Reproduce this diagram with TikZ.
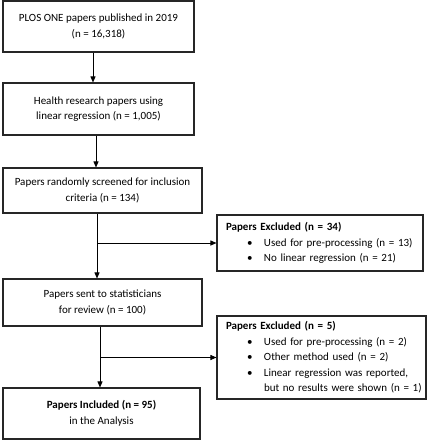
\documentclass[tikz,border=0pt]{standalone}
\usepackage{fontspec}
\setmainfont{Carlito}
\usetikzlibrary{arrows.meta,calc}
\newcommand{\bulletline}[1]{\hspace*{21pt}\makebox[17pt][l]{\textbullet}\mbox{#1}}
\begin{document}
\begin{tikzpicture}[x=1pt,y=1pt,
  every node/.style={font=\fontsize{11}{15.5}\selectfont},
  mainbox/.style={draw=black!85,line width=1.1pt,align=center,inner sep=0pt},
  exclbox/.style={draw=black!85,line width=1.1pt,align=left,inner xsep=9pt,inner ysep=0pt},
  flow/.style={line width=0.9pt,-{Triangle[length=6pt,width=5pt]}}
]
\useasboundingbox (0,0) rectangle (427,-440);
\node[mainbox,minimum width=191pt,minimum height=51pt] (b1) at (98.5,-26.5)
  {PLOS ONE papers published in 2019\\(n = 16,318)};
\node[mainbox,minimum width=191pt,minimum height=52pt] (b2) at (98.5,-109)
  {Health research papers using\\linear regression (n = 1,005)};
\node[mainbox,minimum width=199pt,minimum height=45pt] (b3) at (102.5,-190.5)
  {Papers randomly screened for inclusion\\criteria (n = 134)};
\node[mainbox,minimum width=199pt,minimum height=47pt] (b4) at (102.5,-302.5)
  {Papers sent to statisticians\\for review (n = 100)};
\node[mainbox,minimum width=197pt,minimum height=51pt] (b5) at (101.5,-413.5)
  {\textbf{Papers Included (n = 95)}\\in the Analysis};
\node[exclbox,text width=188pt,minimum height=56pt] (e1) at (320,-243)
  {\textbf{Papers Excluded (n = 34)}\\
   \bulletline{Used for pre-processing (n = 13)}\\
   \bulletline{No linear regression (n = 21)}};
\node[exclbox,text width=191pt,minimum height=83pt] (e2) at (321.5,-357.5)
  {\textbf{Papers Excluded (n = 5)}\\
   \bulletline{Used for pre-processing (n = 2)}\\
   \bulletline{Other method used (n = 2)}\\
   \bulletline{Linear regression was reported,}\\
   \hspace*{38pt}\mbox{but no results were shown (n = 1)}};
\draw[flow] ([xshift=-5.5pt]b1.south) -- ([xshift=-5.5pt]b2.north);
\draw[flow] ([xshift=-2.5pt]b2.south) -- ([xshift=-2.5pt]b2.south |- b3.north);
\draw[flow] ([xshift=-5.5pt]b3.south) -- ([xshift=-5.5pt]b4.north);
\coordinate (j1) at ([xshift=-5.5pt]b3.south |- e1.west);
\draw[flow] (j1) -- (e1.west);
\draw[flow] ([xshift=-2.5pt]b4.south) -- ([xshift=-1.5pt]b5.north);
\coordinate (j2) at ([xshift=-2.5pt]b4.south |- e2.west);
\draw[flow] (j2) -- (e2.west);
\end{tikzpicture}
\end{document}
